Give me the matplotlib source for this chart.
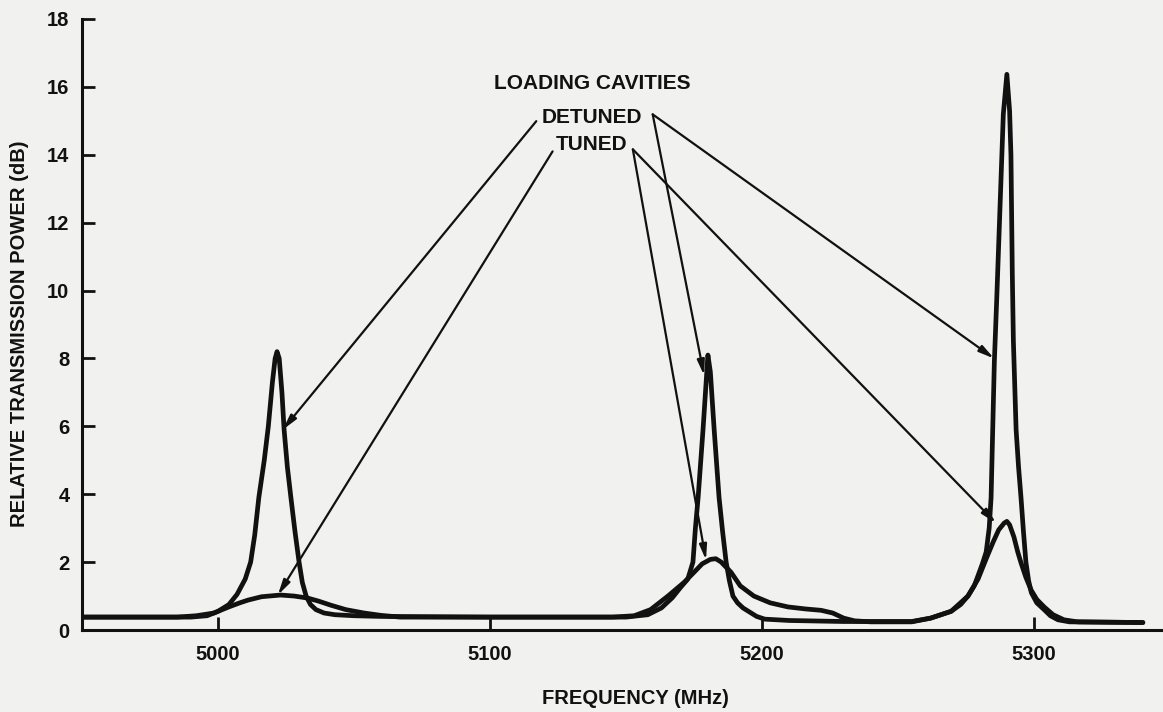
import matplotlib.pyplot as plt

# detuned loading cavities (sharp peaks)
det_f = [4950, 4990, 4996, 5000, 5004, 5007, 5010, 5012, 5013.5, 5015, 5017, 5018.5,
         5020, 5021, 5021.7, 5022.5, 5023.5, 5024.3, 5025.5, 5026.8, 5028.3, 5029.8,
         5031, 5032.4, 5034, 5036, 5039, 5043, 5050, 5060, 5100, 5150, 5158, 5163,
         5167, 5170, 5172.7, 5174.6, 5175.5, 5176.5, 5177.4, 5178.3, 5179.2, 5180.1,
         5181, 5182.4, 5183.3, 5184.2, 5185.5, 5186.8, 5188, 5189.3, 5191, 5193, 5195,
         5198, 5201, 5210, 5230, 5255, 5262, 5269.5, 5273, 5275.7, 5278, 5279.4, 5281,
         5282.4, 5283.5, 5284.2, 5284.8, 5285.4, 5286.3, 5287.5, 5288.7, 5290, 5291,
         5291.5, 5292, 5292.4, 5293.4, 5294.3, 5295.2, 5296.1, 5297, 5298, 5299, 5301,
         5303.7, 5306, 5308.8, 5313, 5340]
det_db = [0.38, 0.38, 0.42, 0.55, 0.75, 1.05, 1.5, 2.0, 2.8, 3.9, 5.0, 6.0,
          7.3, 8.0, 8.2, 8.0, 7.0, 5.9, 4.8, 3.9, 2.9, 2.0,
          1.4, 1.0, 0.75, 0.6, 0.5, 0.45, 0.42, 0.4, 0.38, 0.38, 0.45, 0.65,
          0.95, 1.25, 1.5, 2.0, 3.0, 3.9, 4.9, 5.9, 7.0, 8.1,
          7.6, 5.9, 4.9, 3.9, 2.9, 2.0, 1.45, 1.0, 0.8, 0.65, 0.55,
          0.4, 0.32, 0.28, 0.25, 0.25, 0.35, 0.55, 0.75, 1.0, 1.3, 1.6, 1.95,
          2.3, 3.0, 3.9, 5.9, 7.9, 9.8, 12.5, 15.2, 16.37, 15.3,
          14.0, 10.5, 8.5, 5.9, 4.8, 3.9, 2.9, 2.0, 1.45, 1.1, 0.8,
          0.6, 0.42, 0.3, 0.24, 0.22]

# tuned loading cavities (broad peaks)
tun_f = [4950, 4985, 4992, 4998.5, 5004, 5008, 5011, 5016, 5023, 5028, 5033, 5037,
         5041.5, 5047, 5053.7, 5060, 5067, 5100, 5145, 5153, 5159, 5165.4, 5171.3,
         5175, 5178, 5181, 5183, 5185, 5188.6, 5192, 5197, 5203, 5209.5, 5216,
         5221.7, 5226, 5230, 5234, 5240, 5255, 5262, 5269.5, 5275.7, 5279.4, 5282.4,
         5285, 5287, 5289, 5290, 5291, 5292.6, 5294, 5295.2, 5297, 5298.9, 5301,
         5303.7, 5307, 5311, 5316, 5340]
tun_db = [0.38, 0.38, 0.42, 0.5, 0.68, 0.8, 0.88, 0.98, 1.03, 1.0, 0.94, 0.85,
          0.73, 0.6, 0.5, 0.43, 0.38, 0.38, 0.38, 0.42, 0.6, 1.0, 1.4,
          1.7, 1.95, 2.08, 2.1, 2.0, 1.7, 1.3, 1.0, 0.8, 0.68, 0.62,
          0.58, 0.5, 0.35, 0.27, 0.24, 0.24, 0.35, 0.55, 1.0, 1.5, 2.1,
          2.6, 2.95, 3.15, 3.2, 3.1, 2.74, 2.3, 1.98, 1.55, 1.18, 0.9,
          0.68, 0.45, 0.3, 0.24, 0.22]

x_ticks = [5000, 5100, 5200, 5300]
y_ticks = [0, 2, 4, 6, 8, 10, 12, 14, 16, 18]

ink = '#111111'
paper = '#f1f1ef'
fs = 14.5
plt.rcParams['font.family'] = ['Liberation Sans', 'DejaVu Sans']

fig = plt.figure(figsize=(11.63, 7.12), dpi=100, facecolor=paper)
ax = fig.add_axes([82/1163, 82/712, 1081/1163, 611/712])
ax.set_facecolor(paper)

ax.plot(det_f, det_db, color=ink, lw=3.4, solid_joinstyle='round', solid_capstyle='round')
ax.plot(tun_f, tun_db, color=ink, lw=3.4, solid_joinstyle='round', solid_capstyle='round')

ax.set_xlim(4950, 5347.4)
ax.set_ylim(0, 18)
ax.set_xticks(x_ticks)
ax.set_yticks(y_ticks)
for s in ['top', 'right']:
    ax.spines[s].set_visible(False)
for s in ['left', 'bottom']:
    ax.spines[s].set_linewidth(2.2)
    ax.spines[s].set_color(ink)
ax.tick_params(axis='both', direction='in', length=9.5, width=2.0, color=ink,
               labelsize=fs, labelcolor=ink)
ax.tick_params(axis='x', pad=11)
ax.tick_params(axis='y', pad=9)
for lab in ax.get_xticklabels() + ax.get_yticklabels():
    lab.set_fontweight('bold')

fig.text(635/1163, 1 - 698/712, 'FREQUENCY (MHz)', ha='center', va='center',
         fontsize=fs, fontweight='bold', color=ink)
fig.text(20/1163, 1 - 334/712, 'RELATIVE TRANSMISSION POWER (dB)', ha='center',
         va='center', rotation=90, fontsize=fs, fontweight='bold', color=ink)

# labels and arrows
lx = 5137.5
ax.text(lx, 16.1, 'LOADING CAVITIES', ha='center', va='center',
        fontsize=15, fontweight='bold', color=ink)
ax.text(lx, 15.1, 'DETUNED', ha='center', va='center',
        fontsize=15, fontweight='bold', color=ink)
ax.text(lx, 14.3, 'TUNED', ha='center', va='center',
        fontsize=15, fontweight='bold', color=ink)

arrow = dict(arrowstyle='-|>,head_length=0.9,head_width=0.22', color=ink,
             lw=1.6, shrinkA=0, shrinkB=0)
det_start_l = (5117.0, 14.99)
det_start_r = (5159.8, 15.19)
tun_start_l = (5123.0, 14.1)
tun_start_r = (5152.5, 14.16)
for tip, start in [((5023.8, 5.9), det_start_l), ((5178.7, 7.5), det_start_r),
                   ((5285.3, 8.0), det_start_r), ((5022.0, 1.03), tun_start_l),
                   ((5179.4, 2.06), tun_start_r), ((5286.0, 3.15), tun_start_r)]:
    ax.annotate('', xy=tip, xytext=start, arrowprops=arrow)

fig.savefig('out.png', dpi=100, facecolor=paper)
